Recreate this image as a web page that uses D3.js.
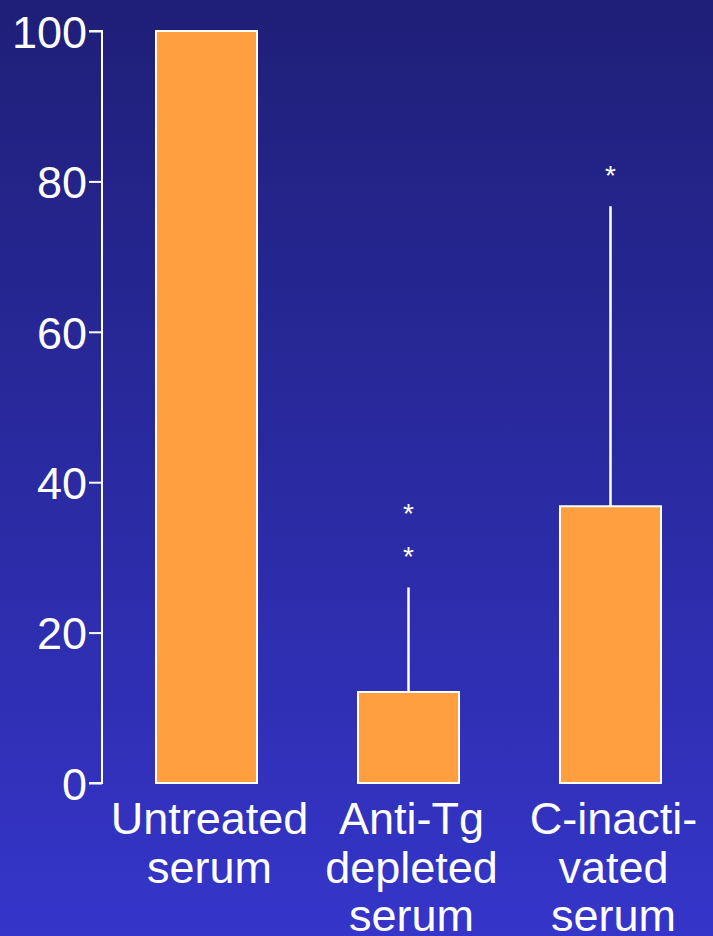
<!DOCTYPE html>
<html>
<head>
<meta charset="utf-8">
<script src="https://cdn.jsdelivr.net/npm/d3@7"></script>
<style>
  html, body { margin: 0; padding: 0; background: #2a2aa0; }
  svg { display: block; }
</style>
</head>
<body>
<svg id="chart" width="713" height="936"></svg>
<script>
var categories = [["Untreated", "serum"], ["Anti-Tg", "depleted", "serum"], ["C-inacti-", "vated", "serum"]];
var values = [100, 12.1, 36.8];
var errorTops = [null, 26.0, 76.7];
var stars = [[], ["*", "*"], ["*"]];
var tickValues = [0, 20, 40, 60, 80, 100];

var svg = d3.select("#chart"),
    width = +svg.attr("width"),
    height = +svg.attr("height");

var defs = svg.append("defs");
var grad = defs.append("linearGradient")
    .attr("id", "bg").attr("x1", 0).attr("y1", 0).attr("x2", 0).attr("y2", 1);
grad.append("stop").attr("offset", "0%").attr("stop-color", "#1f1f78");
grad.append("stop").attr("offset", "100%").attr("stop-color", "#3535ca");
svg.append("rect").attr("width", width).attr("height", height).attr("fill", "url(#bg)");

var font = "Liberation Sans, Arial, sans-serif";

var x = d3.scaleBand()
    .domain(d3.range(categories.length))
    .range([105.5, 711.5])
    .paddingInner(0.5)
    .paddingOuter(0.25);

var y = d3.scaleLinear()
    .domain([0, 100])
    .range([783, 31]);

// y axis
var axis = svg.append("g")
    .attr("transform", "translate(102,0)")
    .call(d3.axisLeft(y).tickValues(tickValues).tickSize(13).tickPadding(2));
axis.select(".domain").attr("stroke", "#fff").attr("stroke-width", 2)
    .attr("d", "M-13," + y(100) + "H0V" + y(0) + "H-13");
axis.selectAll(".tick line").attr("stroke", "#fff").attr("stroke-width", 2);
axis.selectAll(".tick text")
    .attr("fill", "#fff")
    .attr("font-family", font)
    .attr("font-size", 45)
    .attr("dy", "0.36em");

// bars
svg.selectAll(".bar")
    .data(values)
    .enter().append("rect")
    .attr("class", "bar")
    .attr("x", function(d, i) { return x(i); })
    .attr("y", function(d) { return y(d); })
    .attr("width", x.bandwidth())
    .attr("height", function(d) { return y(0) - y(d); })
    .attr("fill", "#ff9f40")
    .attr("stroke", "#fff")
    .attr("stroke-width", 2);

// error bars
svg.selectAll(".err")
    .data(errorTops.map(function(e, i) { return {e: e, i: i}; }).filter(function(d) { return d.e != null; }))
    .enter().append("line")
    .attr("class", "err")
    .attr("x1", function(d) { return x(d.i) + x.bandwidth() / 2; })
    .attr("x2", function(d) { return x(d.i) + x.bandwidth() / 2; })
    .attr("y1", function(d) { return y(values[d.i]); })
    .attr("y2", function(d) { return y(d.e); })
    .attr("stroke", "#fff")
    .attr("stroke-width", 2.5);

// significance stars
stars.forEach(function(s, i) {
  s.forEach(function(t, k) {
    svg.append("text")
      .attr("x", x(i) + x.bandwidth() / 2)
      .attr("y", y(errorTops[i]) - 21 - k * 43)
      .attr("text-anchor", "middle")
      .attr("fill", "#fff")
      .attr("font-family", font)
      .attr("font-size", 28)
      .text(t);
  });
});

// category labels
categories.forEach(function(lines, i) {
  var t = svg.append("text")
    .attr("text-anchor", "middle")
    .attr("fill", "#fff")
    .attr("font-family", font)
    .attr("font-size", 45);
  lines.forEach(function(l, k) {
    t.append("tspan")
      .attr("x", x(i) + x.bandwidth() / 2 + 3)
      .attr("y", 834 + k * 48.5)
      .text(l);
  });
});
</script>
</body>
</html>
